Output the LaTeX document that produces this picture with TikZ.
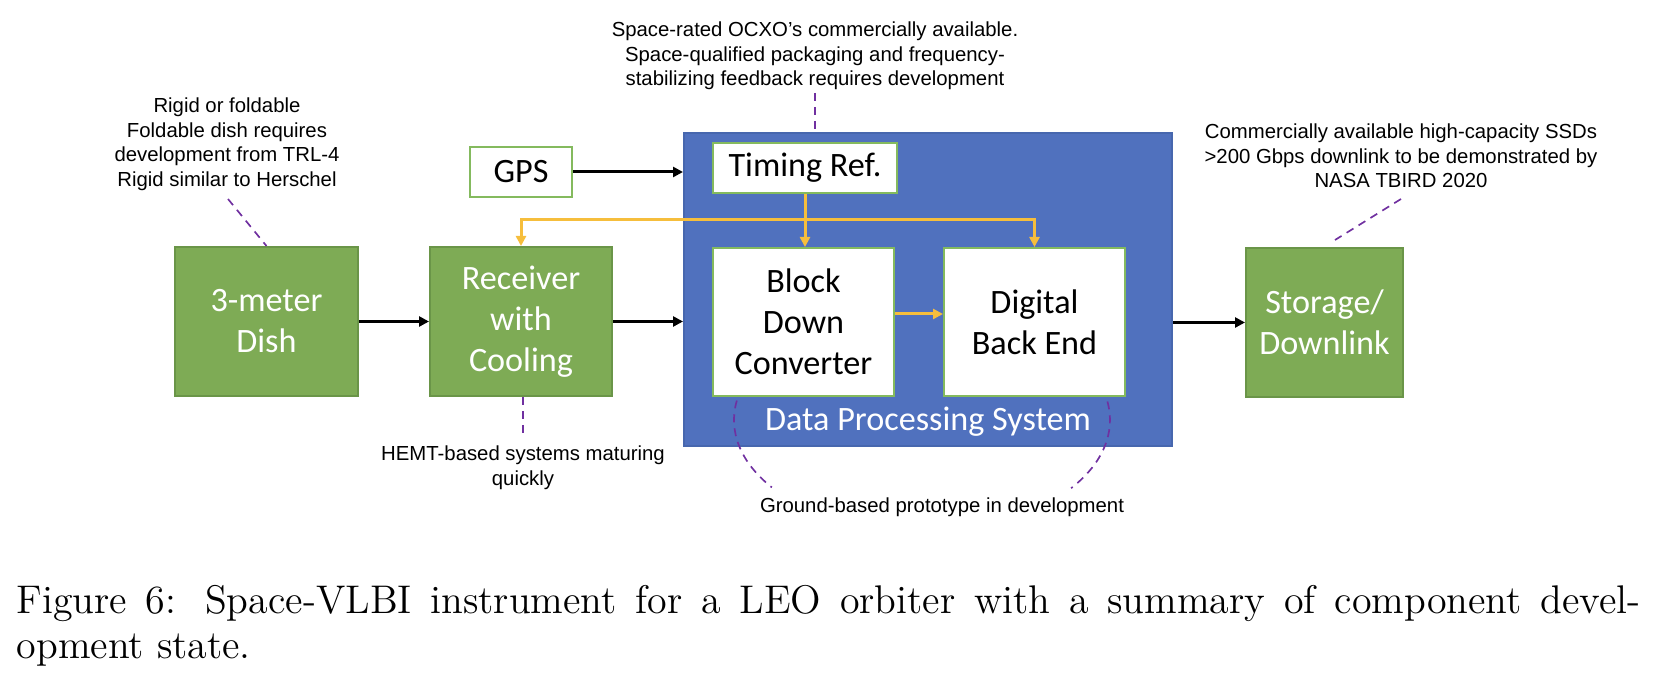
\documentclass[tikz,border=0pt]{standalone}
\usepackage{fontspec}
\newfontfamily\boxfont{Carlito}
\newfontfamily\notefont{Liberation Sans}
\usetikzlibrary{arrows.meta}
\definecolor{boxgreen}{HTML}{7EAB55}
\definecolor{greenedge}{HTML}{6A9548}
\definecolor{lightedge}{HTML}{84BA5E}
\definecolor{dpsblue}{HTML}{5071BE}
\definecolor{dpsedge}{HTML}{4767AE}
\definecolor{tline}{HTML}{F6BE3C}
\definecolor{callcol}{HTML}{7030A0}
\tikzset{
 boxtext/.style={font=\boxfont\fontsize{10.25}{12.3}\selectfont, align=center, inner sep=0pt},
 greenbox/.style={boxtext, draw=greenedge, fill=boxgreen, line width=0.6pt, text=white},
 whitebox/.style={boxtext, draw=lightedge, fill=white, line width=0.6pt, text=black},
 notetext/.style={font=\notefont\fontsize{6.1}{7.35}\selectfont, align=center, inner sep=0pt},
 blk/.style={draw=black, line width=0.9pt, -{Triangle[length=3pt,width=3pt]}},
 ylw/.style={draw=tline, line width=0.9pt, -{Triangle[length=3pt,width=3pt]}},
 callout/.style={draw=callcol, line width=0.5pt, dash pattern=on 2.4pt off 1.8pt},
 captext/.style={anchor=base west, inner sep=0pt, font=\fontsize{12}{14.5}\selectfont},
}
\begin{document}
\begin{tikzpicture}[x=0.3pt,y=-0.3pt]
\useasboundingbox (0,0) rectangle (1676,686);
% boxes
\node[draw=dpsedge, fill=dpsblue, line width=0.6pt, minimum width=146.4pt, minimum height=93.9pt, inner sep=0pt] (dps) at (928,289.5) {};
\node[greenbox, minimum width=54.9pt, minimum height=44.7pt] (dish) at (266.5,321.5) {3-meter\\Dish};
\node[greenbox, minimum width=54.6pt, minimum height=44.7pt] (recv) at (521,321.5) {Receiver\\with\\Cooling};
\node[greenbox, minimum width=47.1pt, minimum height=44.7pt] (stor) at (1324.5,322.5) {Storage/\\Downlink};
\node[whitebox, minimum width=30.6pt, minimum height=15pt] (gps) at (521,172) {GPS};
\node[whitebox, minimum width=55.2pt, minimum height=15pt] (timing) at (805,168) {Timing Ref.};
\node[whitebox, minimum width=54.3pt, minimum height=44.4pt] (bdc) at (803.5,322) {Block\\Down\\Converter};
\node[whitebox, minimum width=54.3pt, minimum height=44.4pt] (dbe) at (1034.5,322) {Digital\\Back End};
\node[boxtext, text=white] (dpslabel) at (928,422) {Data Processing System};
% black arrows
\draw[blk] (dish) -- (recv);
\draw[blk] (recv.east) -- (recv.east -| dps.west);
\draw[blk] (gps.east) -- (gps.east -| dps.west);
\draw[blk] (dps.east |- stor.west) -- (stor.west);
% timing lines
\coordinate (jn) at (805,220);
\draw[ylw] (timing.south) -- (timing.south |- bdc.north);
\draw[draw=tline, line width=0.9pt, {Triangle[length=3pt,width=3pt]}-{Triangle[length=3pt,width=3pt]}] (recv.north) -- (recv.north |- jn) -- (dbe.north |- jn) -- (dbe.north);
\draw[ylw] ([yshift=2.4pt]bdc.east) -- ([yshift=2.4pt]dbe.west);
% annotations
\node[notetext] (a1) at (227,144.5) {Rigid or foldable\\Foldable dish requires\\development from TRL-4\\Rigid similar to Herschel};
\node[notetext] (a2) at (815,56) {Space-rated OCXO’s commercially available.\\Space-qualified packaging and frequency-\\stabilizing feedback requires development};
\node[notetext] (a3) at (1401,156) {Commercially available high-capacity SSDs\\>200 Gbps downlink to be demonstrated by\\NASA TBIRD 2020};
\node[notetext] (a4) at (523,468) {HEMT-based systems maturing\\quickly};
\node[notetext] (a5) at (942,507) {Ground-based prototype in development};
% callouts
\coordinate (c1) at (228,199);
\coordinate (c2) at (815,93);
\coordinate (c3) at (1401,199);
\coordinate (c3b) at (1335,240);
\coordinate (c4) at (523,438);
\coordinate (ec) at (922,420);
\draw[callout] (c1) -- (dish.north);
\draw[callout] (c2) -- (c2 |- dps.north);
\draw[callout] (c3) -- (c3b);
\draw[callout] (recv.south -| c4) -- (c4);
\draw[callout] ([shift={(190:188 and 112)}]ec) arc[start angle=190, end angle=143, x radius=188, y radius=112];
\draw[callout] ([shift={(-9.5:188 and 112)}]ec) arc[start angle=-9.5, end angle=37.5, x radius=188, y radius=112];
% caption
\node[captext] (cap1) at (16,614) {\hbox to 487.2pt{Figure 6: Space-VLBI instrument for a LEO orbiter with a summary of component devel-}};
\node[captext] (cap2) at (16,659) {opment state.};
\end{tikzpicture}
\end{document}
